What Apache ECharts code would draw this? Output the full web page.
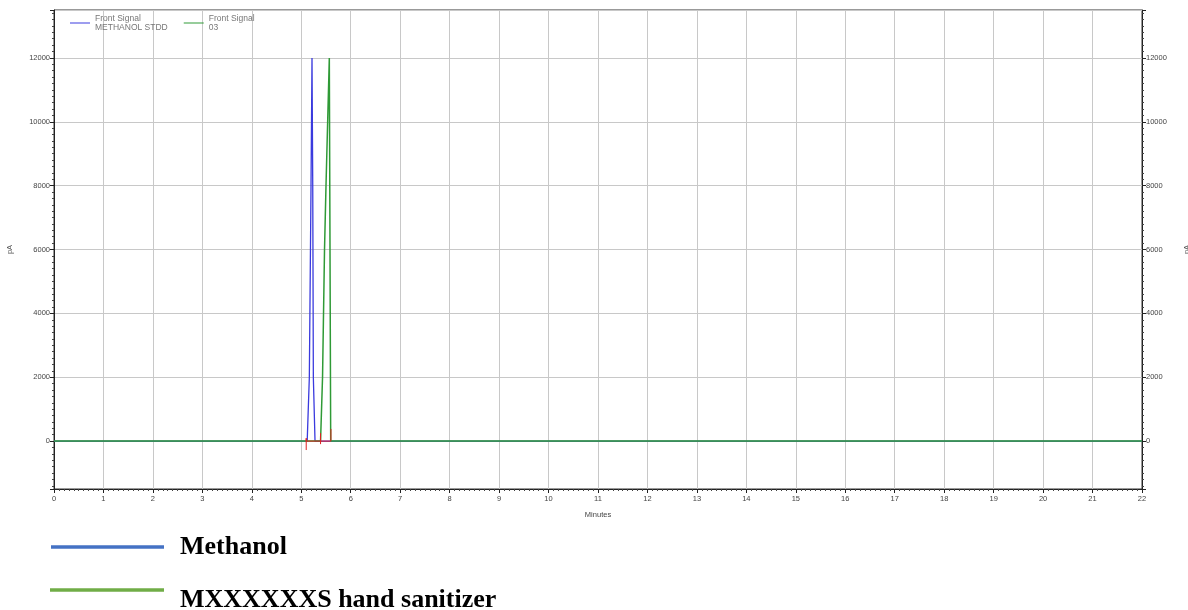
<!DOCTYPE html>
<html>
<head>
<meta charset="utf-8">
<script src="https://cdn.jsdelivr.net/npm/echarts@6/dist/echarts.min.js"></script>
<style>
  html, body { margin: 0; padding: 0; background: #fff; }
  #main { width: 1188px; height: 610px; }
</style>
</head>
<body>
<div id="main"></div>
<script>
// chromatogram values
var methanolTime   = [0, 5.12, 5.163, 5.197, 5.217, 5.232, 5.244, 5.278, 22];
var methanolSignal = [0, 0,    2000,  8000,  12000, 8000,  2000,  0,     0];
var sanitizerTime   = [0, 5.39, 5.43, 5.47, 5.50, 5.567, 5.595, 22];
var sanitizerSignal = [0, 0,    2000, 6000, 8000, 12000, 0,     0];
// integration marks (null = gap)
var markTime   = [5.10, 5.10, 5.10, 5.60, 5.60, 5.60, 5.39, 5.39];
var markSignal = [-280, 90,   0,    0,    380,  null, 250,  -95];

var xTicks = [0,1,2,3,4,5,6,7,8,9,10,11,12,13,14,15,16,17,18,19,20,21,22];
var yTicks = [0, 2000, 4000, 6000, 8000, 10000, 12000];

var seriesNames = ['Methanol', 'MXXXXXXS hand sanitizer'];
var topLabels = {
  'Methanol': 'Front Signal\nMETHANOL STDD',
  'MXXXXXXS hand sanitizer': 'Front Signal\n03'
};

function zip(a, b) {
  return a.map(function (v, i) { return [v, b[i] == null ? '-' : b[i]]; });
}

var yLabel = function (v) { return yTicks.indexOf(v) >= 0 ? String(v) : ''; };

var yAxisCommon = {
  type: 'value',
  min: -1500,
  max: 13500,
  splitNumber: 7,
  name: 'pA',
  nameLocation: 'middle',
  nameRotate: 90,
  nameTextStyle: { fontSize: 7.5, color: '#555', fontFamily: 'Liberation Sans' },
  axisLine: { show: true, lineStyle: { color: '#222' } },
  axisTick: { show: true, length: 4, lineStyle: { color: '#222' } },
  minorTick: { show: true, splitNumber: 10, length: 2, lineStyle: { color: '#444' } },
  axisLabel: { fontSize: 7.5, color: '#444', fontFamily: 'Liberation Sans', formatter: yLabel, margin: 4 }
};

var bigText = { fontSize: 26, fontWeight: 'bold', color: '#000', fontFamily: 'Liberation Serif' };

var chart = echarts.init(document.getElementById('main'));
chart.setOption({
  animation: false,
  grid: {
    left: 54, right: 46, top: 10, bottom: 121,
    outerBoundsMode: 'none',
    show: true, borderColor: '#333', borderWidth: 1
  },
  legend: [{
    data: seriesNames,
    left: 70, top: 14, padding: 0,
    icon: 'rect', itemWidth: 20, itemHeight: 1,
    itemGap: 16,
    formatter: function (n) { return topLabels[n]; },
    textStyle: { fontSize: 8.5, color: '#777', fontFamily: 'Liberation Sans', lineHeight: 9 },
    selectedMode: false
  }, {
    data: [{ name: 'Methanol', itemStyle: { color: '#4472C4' } }],
    left: 51, top: 532, padding: 0,
    icon: 'rect', itemWidth: 113, itemHeight: 3.5,
    textStyle: Object.assign({ padding: [0, 0, 0, 11], lineHeight: 30 }, bigText),
    selectedMode: false
  }, {
    data: [{ name: 'MXXXXXXS hand sanitizer', itemStyle: { color: '#70AD47' } }],
    left: 50, top: 567, padding: 0,
    icon: 'rect', itemWidth: 114, itemHeight: 3.5,
    formatter: function (n) { return '\n' + n; },
    textStyle: Object.assign({ padding: [0, 0, 0, 11], lineHeight: 20 }, bigText),
    selectedMode: false
  }],
  xAxis: {
    type: 'value',
    min: xTicks[0],
    max: xTicks[xTicks.length - 1],
    interval: 1,
    name: 'Minutes',
    nameLocation: 'middle',
    nameGap: 22,
    nameTextStyle: { fontSize: 7.5, color: '#444', fontFamily: 'Liberation Sans' },
    axisLine: { show: true, onZero: false, lineStyle: { color: '#222' } },
    axisTick: { show: true, length: 4, lineStyle: { color: '#222' } },
    minorTick: { show: true, splitNumber: 10, length: 2, lineStyle: { color: '#444' } },
    axisLabel: { fontSize: 7.5, color: '#444', fontFamily: 'Liberation Sans', margin: 6 },
    splitLine: { show: true, lineStyle: { color: '#c8c8c8', width: 1 } }
  },
  yAxis: [
    Object.assign({}, yAxisCommon, {
      position: 'left', nameGap: 40,
      splitLine: { show: true, lineStyle: { color: '#c8c8c8', width: 1 } }
    }),
    Object.assign({}, yAxisCommon, {
      position: 'right', nameGap: 41,
      splitLine: { show: false }
    })
  ],
  series: [{
    name: seriesNames[0],
    type: 'line',
    data: zip(methanolTime, methanolSignal),
    showSymbol: false,
    lineStyle: { color: '#3a3ade', width: 1.3 },
    itemStyle: { color: '#3a3ade' },
    z: 3
  }, {
    name: seriesNames[1],
    type: 'line',
    data: zip(sanitizerTime, sanitizerSignal),
    showSymbol: false,
    lineStyle: { color: '#2f9a36', width: 1.5 },
    itemStyle: { color: '#2f9a36' },
    z: 4
  }, {
    name: 'marks',
    type: 'line',
    data: zip(markTime, markSignal),
    showSymbol: false,
    connectNulls: false,
    lineStyle: { color: '#e02020', width: 1 },
    itemStyle: { color: '#e02020' },
    z: 5
  }]
});
</script>
</body>
</html>
